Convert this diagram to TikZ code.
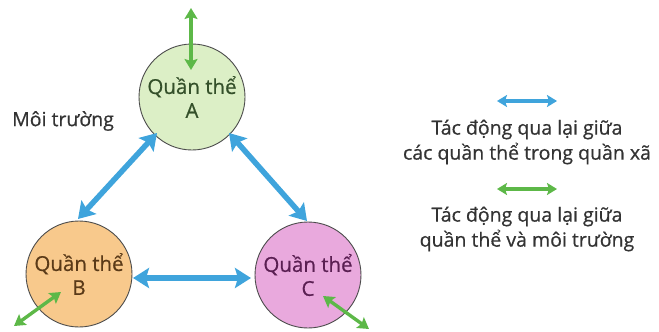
\documentclass[tikz,border=0pt]{standalone}
\usepackage{fontspec}
\setmainfont{Open Sans}
\newfontfamily\medfont{Open Sans}[FakeBold=0.6]
\usetikzlibrary{arrows.meta}
\definecolor{bluearr}{HTML}{3FA4DC}
\definecolor{greenarr}{HTML}{5DB848}
\definecolor{fillA}{HTML}{DCEFC6}
\definecolor{fillB}{HTML}{F8C98C}
\definecolor{fillC}{HTML}{E9A9DD}
\definecolor{txt}{HTML}{333333}
\definecolor{txtA}{HTML}{34502A}
\definecolor{txtB}{HTML}{5A3A18}
\definecolor{txtC}{HTML}{5A1F52}
\tikzset{
  pop/.style={circle, draw=black!70, line width=0.9pt, minimum size=106pt, inner sep=0pt, align=center, font=\medfont\fontsize{20.5}{24}\selectfont},
  bluelink/.style={bluearr, line width=5.5pt, {Stealth[width=20pt,length=16pt,inset=3pt]}-{Stealth[width=20pt,length=16pt,inset=3pt]}},
  greenlink/.style={greenarr, line width=3.4pt, {Stealth[width=13pt,length=11pt,inset=2pt]}-{Stealth[width=13pt,length=11pt,inset=2pt]}},
  legarrow/.style={line width=3.4pt, {Stealth[width=12pt,length=10pt,inset=2pt]}-{Stealth[width=12pt,length=10pt,inset=2pt]}},
  lbl/.style={text=txt, font=\medfont\fontsize{19.5}{25}\selectfont, align=center}
}
\begin{document}
\begin{tikzpicture}[x=1pt,y=-1pt]
\useasboundingbox (0,0) rectangle (659,332);
\node[pop, fill=fillA, text=txtA] (A) at (192,97) {Quần thể\\A};
\node[pop, fill=fillB, text=txtB] (B) at (79,274) {Quần thể\\B};
\node[pop, fill=fillC, text=txtC] (C) at (308,275) {Quần thể\\C};
\node[lbl, anchor=west, inner sep=0pt] (env) at (12,121) {Môi trường};
% blue interactions
\coordinate (ab1) at (78,219);
\coordinate (ab2) at (157,133);
\coordinate (ac1) at (229,133);
\coordinate (ac2) at (307,221);
\coordinate (bc1) at (133,278);
\coordinate (bc2) at (251,278);
\draw[bluelink] (ab1) -- (ab2);
\draw[bluelink] (ac1) -- (ac2);
\draw[bluelink] (bc1) -- (bc2);
% green interactions
\coordinate (ga1) at (191,8);
\coordinate (ga2) at (191,70);
\coordinate (gb1) at (14,326);
\coordinate (gb2) at (61,292);
\coordinate (gc1) at (323,296);
\coordinate (gc2) at (369,329);
\draw[greenlink] (ga1) -- (ga2);
\draw[greenlink] (gb1) -- (gb2);
\draw[greenlink] (gc1) -- (gc2);
% legend
\coordinate (lb1) at (497,101);
\coordinate (lb2) at (557,101);
\draw[bluearr, legarrow] (lb1) -- (lb2);
\node[lbl] (leg1) at (527,142) {Tác động qua lại giữa\\các quần thể trong quần xã};
\coordinate (lg1) at (497,189);
\coordinate (lg2) at (557,189);
\draw[greenarr, legarrow] (lg1) -- (lg2);
\node[lbl] (leg2) at (527,229) {Tác động qua lại giữa\\quần thể và môi trường};
\end{tikzpicture}
\end{document}
